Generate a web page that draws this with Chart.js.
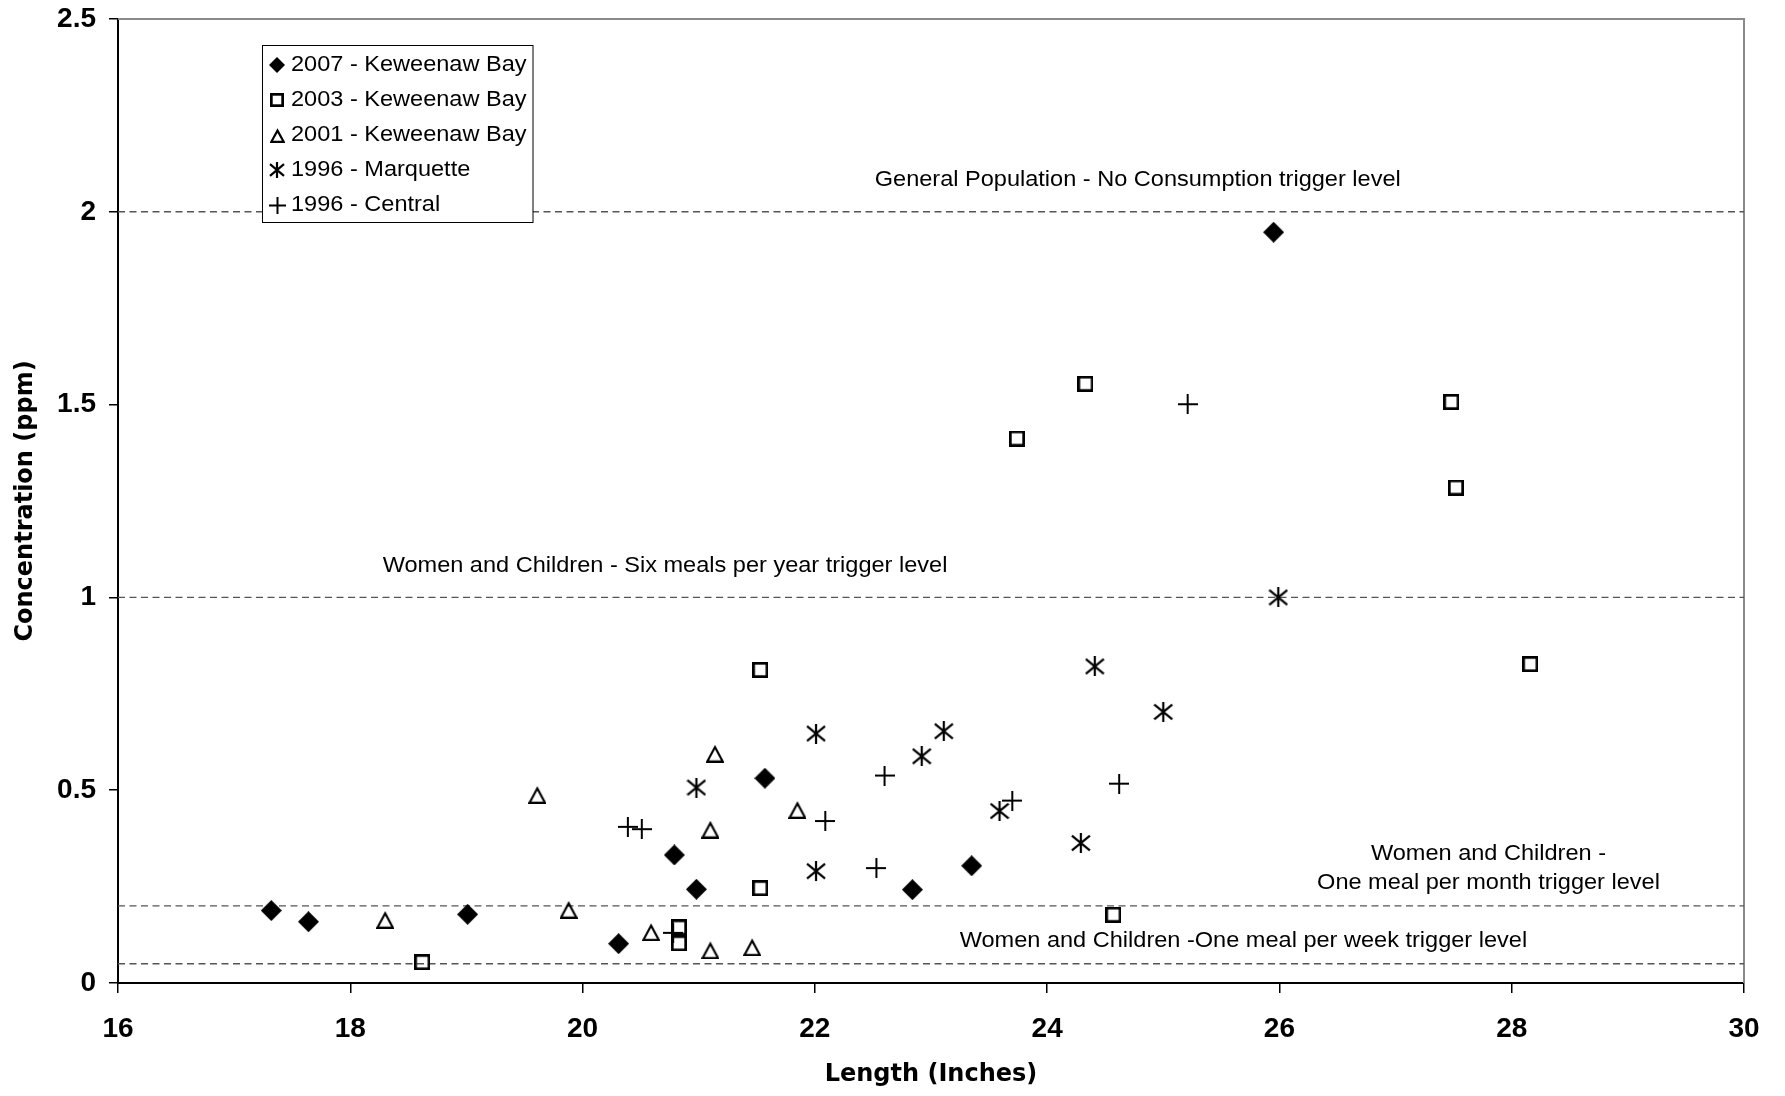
<!DOCTYPE html>
<html>
<head>
<meta charset="utf-8">
<title>Concentration vs Length</title>
<script src="https://cdn.jsdelivr.net/npm/chart.js@4.4.1/dist/chart.umd.min.js"></script>
<style>
  html, body { margin: 0; padding: 0; background: #fff; }
  #wrap { width: 1785px; height: 1096px; }
</style>
</head>
<body>
<div id="wrap"><canvas id="chart" width="1785" height="1096"></canvas></div>
<script>
// Values: length (inches) and concentration (ppm)
const kb2007Length = [17.32, 17.64, 19.01, 20.31, 20.79, 20.98, 21.57, 22.84, 23.35, 25.95];
const kb2007Conc   = [0.188, 0.159, 0.178, 0.102, 0.332, 0.243, 0.531, 0.242, 0.304, 1.947];

const kb2003Length = [18.62, 20.83, 20.83, 21.53, 21.53, 23.74, 24.33, 24.57, 27.48, 27.52, 28.16];
const kb2003Conc   = [0.054, 0.144, 0.103, 0.812, 0.246, 1.412, 1.554, 0.177, 1.507, 1.285, 0.827];

const kb2001Length = [18.30, 19.61, 19.88, 20.59, 21.10, 21.10, 21.14, 21.46, 21.85];
const kb2001Conc   = [0.164, 0.488, 0.190, 0.132, 0.085, 0.398, 0.595, 0.093, 0.449];

const marq1996Length = [20.98, 22.01, 22.01, 22.92, 23.11, 23.59, 24.29, 24.41, 25.00, 25.99];
const marq1996Conc   = [0.507, 0.647, 0.290, 0.588, 0.653, 0.446, 0.363, 0.821, 0.703, 1.000];

const cent1996Length = [20.39, 20.51, 20.78, 22.09, 22.53, 22.60, 23.70, 24.62, 25.21];
const cent1996Conc   = [0.405, 0.399, 0.130, 0.420, 0.298, 0.538, 0.473, 0.517, 1.501];

const seriesLabels = ['2007 - Keweenaw Bay', '2003 - Keweenaw Bay', '2001 - Keweenaw Bay', '1996 - Marquette', '1996 - Central'];

const xRange = [16, 30];
const yRange = [0, 2.5];
const xTickValues = [16, 18, 20, 22, 24, 26, 28, 30];
const yTickValues = [0, 0.5, 1, 1.5, 2, 2.5];

const triggerLevels = [2, 1, 0.2, 0.05];
const triggerNotes = [
    ['General Population - No Consumption trigger level'],
    ['Women and Children - Six meals per year trigger level'],
    ['Women and Children -', 'One meal per month trigger level'],
    ['Women and Children -One meal per week trigger level']
];
// where each note sits, in axis units (centre of first line)
const noteAnchors = [
    { x: 24.78, y: 2.083 },
    { x: 20.71, y: 1.082 },
    { x: 27.80, y: 0.335 },
    { x: 25.69, y: 0.110 }
];

const TEXT_FONT = '22px "Liberation Sans", Arial, sans-serif';
const TEXT_STRETCH = 1.07;

// --- marker glyphs, drawn once on small canvases ---
function markerCanvas(size, paint) {
    const c = document.createElement('canvas');
    c.width = size;
    c.height = size;
    const g = c.getContext('2d');
    g.strokeStyle = '#000';
    g.fillStyle = '#000';
    paint(g, size);
    return c;
}

const painters = {
    diamond: (g, s) => {
        g.beginPath();
        g.moveTo(s / 2, 0);
        g.lineTo(s, s / 2);
        g.lineTo(s / 2, s);
        g.lineTo(0, s / 2);
        g.closePath();
        g.fill();
    },
    square: (g, s) => {
        const lw = 2.7;
        g.lineWidth = lw;
        g.strokeRect(lw / 2, lw / 2, s - lw, s - lw);
    },
    triangle: (g, s) => {
        g.lineWidth = 2.2;
        g.lineJoin = 'miter';
        g.beginPath();
        g.moveTo(s / 2, 2.6);
        g.lineTo(s - 1.3, s - 1.2);
        g.lineTo(1.3, s - 1.2);
        g.closePath();
        g.stroke();
    },
    asterisk: (g, s) => {
        g.lineWidth = 2.2;
        g.beginPath();
        g.moveTo(s / 2, 0);
        g.lineTo(s / 2, s);
        g.moveTo(1, s * 0.13);
        g.lineTo(s - 1, s * 0.87);
        g.moveTo(s - 1, s * 0.13);
        g.lineTo(1, s * 0.87);
        g.stroke();
    },
    plus: (g, s) => {
        g.lineWidth = 2;
        g.beginPath();
        g.moveTo(s / 2, 0);
        g.lineTo(s / 2, s);
        g.moveTo(0, s / 2);
        g.lineTo(s, s / 2);
        g.stroke();
    }
};

const markerKinds = ['diamond', 'square', 'triangle', 'asterisk', 'plus'];
const plotSizes = { diamond: 21, square: 16, triangle: 18, asterisk: 20, plus: 20 };
const legendSizes = { diamond: 16, square: 14, triangle: 15, asterisk: 16, plus: 17 };

const plotMarkers = markerKinds.map(k => markerCanvas(plotSizes[k], painters[k]));
const legendMarkers = markerKinds.map(k => markerCanvas(legendSizes[k], painters[k]));

function toPoints(xs, ys) {
    return xs.map((x, i) => ({ x: x, y: ys[i] }));
}

const seriesData = [
    toPoints(kb2007Length, kb2007Conc),
    toPoints(kb2003Length, kb2003Conc),
    toPoints(kb2001Length, kb2001Conc),
    toPoints(marq1996Length, marq1996Conc),
    toPoints(cent1996Length, cent1996Conc)
];

const pointDatasets = seriesData.map((pts, i) => ({
    label: seriesLabels[i],
    data: pts,
    pointStyle: plotMarkers[i],
    pointRadius: 5,
    showLine: false,
    order: 0
}));

const levelDatasets = triggerLevels.map(level => ({
    label: 'level ' + level,
    data: [{ x: xRange[0], y: level }, { x: xRange[1], y: level }],
    showLine: true,
    borderColor: '#555555',
    borderWidth: 1.4,
    borderDash: [7, 4.5],
    pointRadius: 0,
    order: 2
}));

function drawStretched(ctx, text, x, y, align) {
    ctx.save();
    ctx.translate(x, y);
    ctx.scale(TEXT_STRETCH, 1);
    ctx.font = TEXT_FONT;
    ctx.fillStyle = '#000';
    ctx.textAlign = align;
    ctx.textBaseline = 'middle';
    ctx.fillText(text, 0, 0);
    ctx.restore();
}

// grey top/right edge of the plot box
const frame = {
    id: 'plotFrame',
    beforeDatasetsDraw(chart) {
        const { ctx, chartArea: a } = chart;
        ctx.save();
        ctx.strokeStyle = '#8a8a8a';
        ctx.lineWidth = 2;
        ctx.beginPath();
        ctx.moveTo(a.left, a.top);
        ctx.lineTo(a.right, a.top);
        ctx.lineTo(a.right, a.bottom);
        ctx.stroke();
        ctx.restore();
    }
};

const notes = {
    id: 'triggerNotes',
    afterDatasetsDraw(chart) {
        const { ctx, scales } = chart;
        triggerNotes.forEach((lines, i) => {
            const cx = scales.x.getPixelForValue(noteAnchors[i].x);
            const cy = scales.y.getPixelForValue(noteAnchors[i].y);
            lines.forEach((line, j) => drawStretched(ctx, line, cx, cy + j * 29, 'center'));
        });
    }
};

// boxed legend in the upper left of the plot
const boxLegend = {
    id: 'boxLegend',
    afterDraw(chart) {
        const ctx = chart.ctx;
        const box = { left: 262.5, top: 45.5, width: 270.5, height: 177 };
        ctx.save();
        ctx.fillStyle = '#fff';
        ctx.fillRect(box.left, box.top, box.width, box.height);
        ctx.strokeStyle = '#000';
        ctx.lineWidth = 1;
        ctx.strokeRect(box.left, box.top, box.width, box.height);
        seriesLabels.forEach((label, i) => {
            const y = box.top + 19.5 + i * 35;
            const m = legendMarkers[i];
            ctx.drawImage(m, Math.round(277 - m.width / 2), Math.round(y - m.height / 2));
            drawStretched(ctx, label, 291, y, 'left');
        });
        ctx.restore();
    }
};

const tickFont = { family: '"Liberation Sans", Arial, sans-serif', size: 28, weight: 'bold' };
const titleFont = { family: '"DejaVu Sans", sans-serif', size: 24, weight: 'bold' };

new Chart(document.getElementById('chart'), {
    type: 'scatter',
    data: { datasets: [...pointDatasets, ...levelDatasets] },
    options: {
        responsive: false,
        animation: false,
        events: [],
        layout: { padding: { top: 19, right: 41, bottom: 0, left: 0 } },
        plugins: {
            legend: { display: false },
            tooltip: { enabled: false }
        },
        scales: {
            x: {
                type: 'linear',
                min: xRange[0],
                max: xRange[1],
                afterBuildTicks: (scale) => { scale.ticks = xTickValues.map(v => ({ value: v })); },
                afterFit: (scale) => {
                    scale.height = 113;
                    scale.paddingLeft = 0;
                    scale.paddingRight = 0;
                },
                ticks: {
                    color: '#000',
                    font: tickFont,
                    padding: 19,
                    autoSkip: false,
                    maxRotation: 0,
                    callback: (v) => String(v)
                },
                grid: { drawOnChartArea: false, drawTicks: true, tickLength: 10, color: '#000', lineWidth: 1.5 },
                border: { color: '#000', width: 2 },
                title: {
                    display: true,
                    text: 'Length (Inches)',
                    color: '#000',
                    font: titleFont,
                    padding: { top: 0, bottom: 7 }
                }
            },
            y: {
                type: 'linear',
                min: yRange[0],
                max: yRange[1],
                afterBuildTicks: (scale) => { scale.ticks = yTickValues.map(v => ({ value: v })); },
                afterFit: (scale) => {
                    scale.width = 118;
                    scale.paddingTop = 0;
                    scale.paddingBottom = 0;
                },
                ticks: {
                    color: '#000',
                    font: tickFont,
                    padding: 13,
                    autoSkip: false,
                    callback: (v) => String(v)
                },
                grid: { drawOnChartArea: false, drawTicks: true, tickLength: 9, color: '#000', lineWidth: 1.5 },
                border: { color: '#000', width: 2 },
                title: {
                    display: true,
                    text: 'Concentration (ppm)',
                    color: '#000',
                    font: titleFont,
                    padding: { top: 11.5, bottom: 0 }
                }
            }
        }
    },
    plugins: [frame, notes, boxLegend]
});
</script>
</body>
</html>
